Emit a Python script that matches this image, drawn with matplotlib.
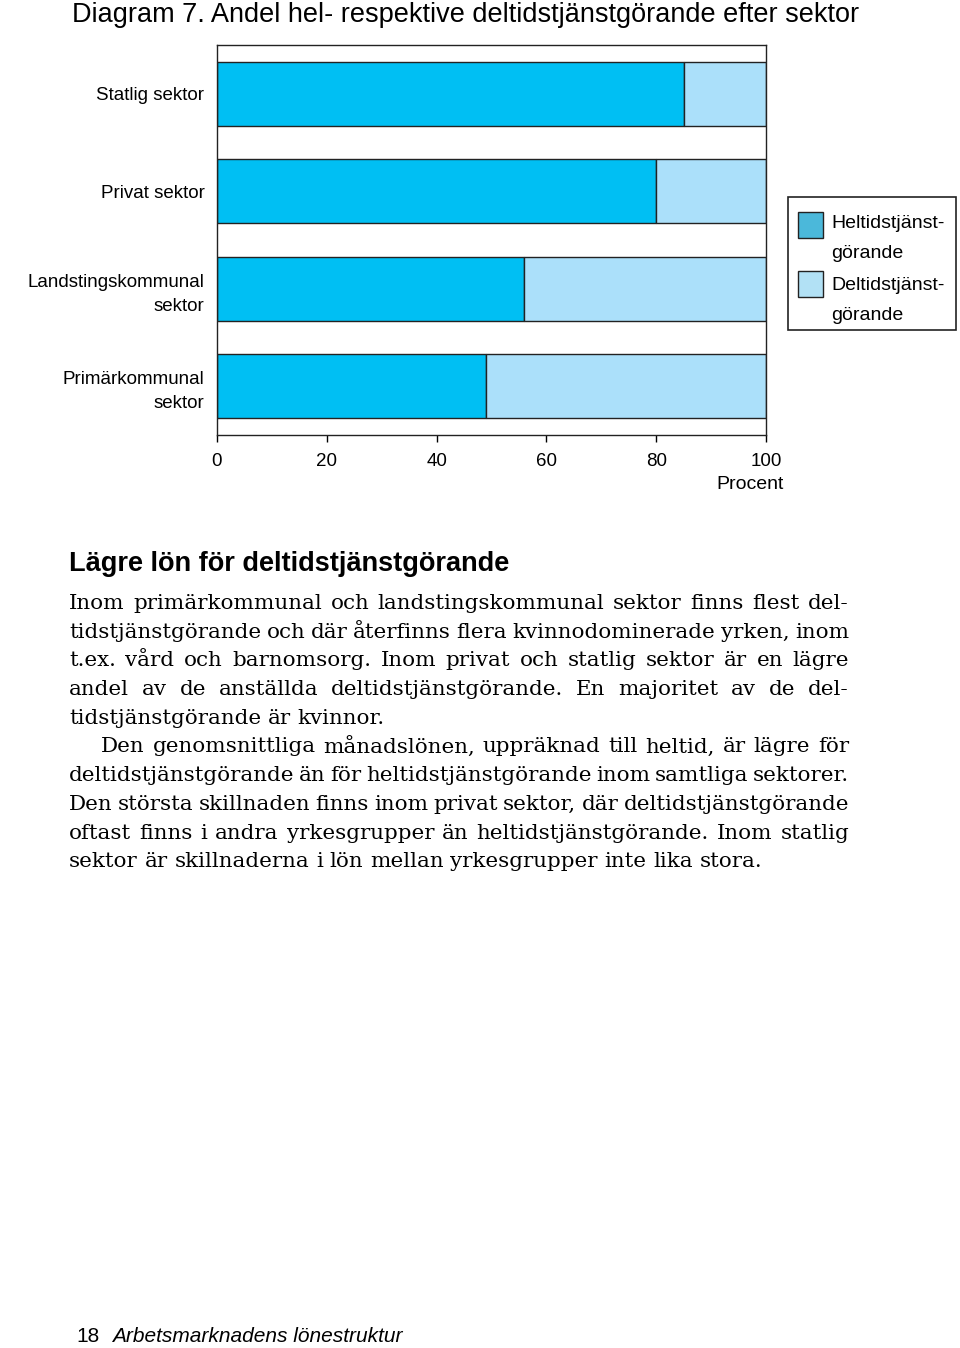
import matplotlib
matplotlib.use("Agg")
import matplotlib.pyplot as plt
from matplotlib.patches import Rectangle

# data (percent)
sektorer = ["Statlig sektor", "Privat sektor", "Landstingskommunal\nsektor", "Primärkommunal\nsektor"]
heltid = [85, 80, 56, 49]
deltid = [15, 20, 44, 51]
xticks = [0, 20, 40, 60, 80, 100]
serie_namn = ["Heltidstjänst-\ngörande", "Deltidstjänst-\ngörande"]

MORK = "#00BFF3"
LJUS = "#ABE0FA"
KANT = "#222222"

W, H = 960, 1348
def fx(x):
    return x / W
def fy(y):
    return 1 - y / H

plt.rcParams["font.family"] = ["Liberation Sans", "DejaVu Sans"]

fig = plt.figure(figsize=(9.6, 13.48), dpi=100)
ax = fig.add_axes([fx(217), fy(435), fx(766) - fx(217), fy(45) - fy(435)])

pos = list(range(len(sektorer)))[::-1]
ax.barh(pos, heltid, height=0.66, color=MORK, edgecolor=KANT, linewidth=1)
ax.barh(pos, deltid, left=heltid, height=0.66, color=LJUS, edgecolor=KANT, linewidth=1)

ax.set_xlim(0, 100)
ax.set_ylim(-0.5, 3.5)
ax.set_xticks(xticks)
ax.set_xticklabels([str(t) for t in xticks], fontsize=13.5)
ax.set_yticks(pos)
ax.set_yticklabels(sektorer, fontsize=13.5, linespacing=1.55)
ax.tick_params(axis="y", length=0, pad=9)
ax.tick_params(axis="x", length=5, width=1, pad=8, direction="out")
for s in ax.spines.values():
    s.set_linewidth(1)
    s.set_color(KANT)

fig.text(fx(784), fy(484), "Procent", ha="right", va="center", fontsize=14)

# legend, drawn by hand
fig.patches.append(Rectangle((fx(788), fy(330)), fx(956) - fx(788), fy(197) - fy(330),
                             transform=fig.transFigure, fill=False, edgecolor=KANT, lw=1.2))
for i, (namn, farg) in enumerate(zip(serie_namn, ["#4BB8DA", "#B2E1F5"])):
    y0 = 212 + i * 59
    fig.patches.append(Rectangle((fx(798), fy(y0 + 26)), fx(25), 26 / H,
                                 transform=fig.transFigure, facecolor=farg, edgecolor=KANT, lw=1))
    for j, rad in enumerate(namn.split("\n")):
        fig.text(fx(831), fy(224 + i * 61 + j * 30), rad, ha="left", va="center", fontsize=14)

fig.text(fx(72), fy(15), "Diagram 7. Andel hel- respektive deltidstjänstgörande efter sektor",
         ha="left", va="center", fontsize=19.5)

fig.text(fx(69), fy(564), "Lägre lön för deltidstjänstgörande", ha="left", va="center",
         fontsize=19.5, fontweight="bold")

rader = [
    ("Inom primärkommunal och landstingskommunal sektor finns flest del-", 69, True),
    ("tidstjänstgörande och där återfinns flera kvinnodominerade yrken, inom", 69, True),
    ("t.ex. vård och barnomsorg. Inom privat och statlig sektor är en lägre", 69, True),
    ("andel av de anställda deltidstjänstgörande. En majoritet av de del-", 69, True),
    ("tidstjänstgörande är kvinnor.", 69, False),
    ("Den genomsnittliga månadslönen, uppräknad till heltid, är lägre för", 101, True),
    ("deltidstjänstgörande än för heltidstjänstgörande inom samtliga sektorer.", 69, True),
    ("Den största skillnaden finns inom privat sektor, där deltidstjänstgörande", 69, True),
    ("oftast finns i andra yrkesgrupper än heltidstjänstgörande. Inom statlig", 69, True),
    ("sektor är skillnaderna i lön mellan yrkesgrupper inte lika stora.", 69, False),
]

renderer = fig.canvas.get_renderer()
kw = dict(family=["DejaVu Serif"], fontsize=15.4, va="baseline", ha="left")
t1 = fig.text(0, 0, "a a", **kw)
t2 = fig.text(0, 0, "aa", **kw)
mellanrum = t1.get_window_extent(renderer).width - t2.get_window_extent(renderer).width
t1.remove(); t2.remove()

for k, (rad, x0, just) in enumerate(rader):
    y = 609 + k * 28.7
    ord_ = rad.split()
    objs = [fig.text(0, fy(y), o, **kw) for o in ord_]
    bredd = [o.get_window_extent(renderer).width for o in objs]
    if just:
        gap = (849 - x0 - sum(bredd)) / (len(ord_) - 1)
    else:
        gap = mellanrum
    x = x0
    for o, b in zip(objs, bredd):
        o.set_x(fx(x))
        x += b + gap

fig.text(fx(76), fy(1336), "18", ha="left", va="center", fontsize=15)
fig.text(fx(112), fy(1336), "Arbetsmarknadens lönestruktur", ha="left", va="center",
         fontsize=15, style="italic")

fig.savefig("out.png", dpi=100)
